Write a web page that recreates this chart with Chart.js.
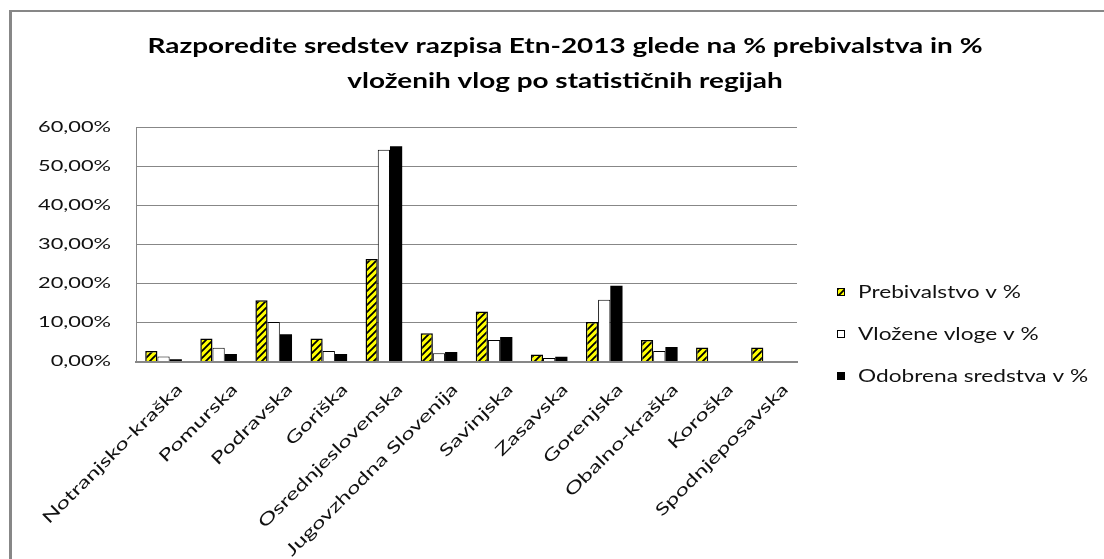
<!DOCTYPE html>
<html><head><meta charset="utf-8">
<script src="https://cdn.jsdelivr.net/npm/chart.js@4/dist/chart.umd.min.js"></script>
<style>
html,body{margin:0;padding:0;background:#fff;overflow:hidden}
#wrap{position:relative;width:1104px;height:559px}
canvas{position:absolute;left:0;top:0}
#frame{position:absolute;left:9px;top:10px;width:1200px;height:700px;border-left:3px solid #878787;border-top:2px solid #878787;pointer-events:none}
</style></head><body>
<div id="wrap"><canvas id="c" width="1104" height="559"></canvas><div id="frame"></div></div>
<script>
// ---- data ----
const categories = ['Notranjsko-kraška','Pomurska','Podravska','Goriška','Osrednjeslovenska','Jugovzhodna Slovenija','Savinjska','Zasavska','Gorenjska','Obalno-kraška','Koroška','Spodnjeposavska'];
const prebivalstvo = [2.7, 5.9, 15.7, 5.9, 26.2, 7.2, 12.8, 1.8, 10.1, 5.5, 3.6, 3.6];
const vlozeneVloge = [1.3, 3.5, 10.1, 2.7, 54.2, 2.1, 5.5, 0.9, 15.8, 2.7, 0, 0];
const odobrenaSredstva = [0.6, 1.9, 7.0, 1.9, 55.1, 2.4, 6.3, 1.2, 19.4, 3.7, 0, 0];
const seriesNames = ['Prebivalstvo v %','Vložene vloge v %','Odobrena sredstva v %'];
const yTickValues = [0, 10, 20, 30, 40, 50, 60];
const titleLines = ['Razporedite sredstev razpisa Etn-2013 glede na % prebivalstva in %','vloženih vlog po statističnih regijah'];

// ---- text widening (reference font renders wide) ----
const canvas = document.getElementById('c');
const ctx = canvas.getContext('2d');
const origFill = CanvasRenderingContext2D.prototype.fillText;
const origMeasure = CanvasRenderingContext2D.prototype.measureText;
const sxByFont = {};
function fontKey(f){ ctx.font = f; return ctx.font; }
function fitSX(f, text, target){
  const k = fontKey(f);
  const w = origMeasure.call(ctx, text).width;
  sxByFont[k] = target / w;
  return f;
}
fitSX('15px Lato', '60,00%', 73);
fitSX('16.5px Lato', 'Notranjsko-kraška', 190);
fitSX('bold 21px Lato', titleLines[0], 835);
const FONT_LEG = fitSX('17px Lato', seriesNames[0], 163);
ctx.fillText = function(t, x, y){
  const s = sxByFont[this.font] || 1;
  this.save(); this.translate(x, y); this.scale(s, 1); origFill.call(this, t, 0, 0); this.restore();
};
ctx.measureText = function(t){
  const m = origMeasure.call(this, t);
  const s = sxByFont[this.font] || 1;
  return {width: m.width * s, actualBoundingBoxAscent: m.actualBoundingBoxAscent, actualBoundingBoxDescent: m.actualBoundingBoxDescent,
    actualBoundingBoxLeft: m.actualBoundingBoxLeft * s, actualBoundingBoxRight: m.actualBoundingBoxRight * s};
};

// ---- stripe pattern ----
function stripePattern(){
  const p = document.createElement('canvas'); p.width = 7; p.height = 7;
  const g = p.getContext('2d');
  g.fillStyle = '#ffff00'; g.fillRect(0, 0, 7, 7);
  g.strokeStyle = '#000'; g.lineWidth = 1.9; g.beginPath();
  g.moveTo(-2, 9); g.lineTo(9, -2);
  g.moveTo(-2, 2); g.lineTo(2, -2);
  g.moveTo(5, 9); g.lineTo(9, 5);
  g.stroke();
  return ctx.createPattern(p, 'repeat');
}
const yellowStripes = stripePattern();

const legendPlugin = {
  id: 'sideLegend',
  afterDraw(chart){
    const c = chart.ctx, a = chart.chartArea;
    const x = a.right + 40;
    const ys = [a.top + 165, a.top + 207, a.top + 249];
    const fills = [yellowStripes, '#ffffff', '#000000'];
    c.save();
    ys.forEach((y, i) => {
      c.fillStyle = fills[i]; c.fillRect(x, y - 4, 8, 8);
      c.strokeStyle = '#000'; c.lineWidth = 1; c.strokeRect(x + 0.5, y - 3.5, 7, 7);
      c.font = FONT_LEG; c.fillStyle = '#111'; c.textAlign = 'left'; c.textBaseline = 'middle';
      c.fillText(seriesNames[i], x + 21, y + 1);
    });
    c.restore();
  }
};

const PLOT_LEFT = 136, PLOT_BOTTOM = 361.5, PLOT_RIGHT = 797, PAD_LEFT = 26;
new Chart(ctx, {
  type: 'bar',
  data: {
    labels: categories,
    datasets: [
      {label: seriesNames[0], data: prebivalstvo, backgroundColor: yellowStripes, borderColor: '#000', borderWidth: 1.5},
      {label: seriesNames[1], data: vlozeneVloge, backgroundColor: '#ffffff', borderColor: '#000', borderWidth: 1},
      {label: seriesNames[2], data: odobrenaSredstva, backgroundColor: '#000000', borderColor: '#000', borderWidth: 0}
    ]
  },
  options: {
    responsive: false, animation: false,
    devicePixelRatio: 1,
    layout: {padding: {left: PAD_LEFT, right: 0, top: 0, bottom: 0}},
    datasets: {bar: {categoryPercentage: 0.665, barPercentage: 1}},
    plugins: {
      legend: {display: false},
      tooltip: {enabled: false},
      title: {display: true, text: titleLines, color: '#000',
        font: {family: 'Lato', size: 21, weight: 'bold', lineHeight: 1.65},
        padding: {top: 29, bottom: 28.7}}
    },
    scales: {
      x: {
        grid: {display: false, drawTicks: false},
        border: {display: true, color: '#878787', width: 2},
        ticks: {autoSkip: false, maxRotation: 45, minRotation: 45, color: '#111', padding: 18, labelOffset: 16,
          font: {family: 'Lato', size: 16.5}},
        afterFit(s){ s.height = 559 - PLOT_BOTTOM; }
      },
      y: {
        min: 0, max: 60,
        afterBuildTicks(s){ s.ticks = yTickValues.map(v => ({value: v})); },
        grid: {color: '#878787', lineWidth: 1, drawTicks: false},
        border: {display: true, color: '#878787', width: 1},
        ticks: {color: '#111', padding: 25, font: {family: 'Lato', size: 15},
          callback: v => v.toFixed(2).replace('.', ',') + '%'},
        afterFit(s){ s.width = PLOT_LEFT - PAD_LEFT; }
      },
      legendSpace: {
        type: 'linear', position: 'right', display: true,
        grid: {display: false, drawTicks: false}, border: {display: false}, ticks: {display: false},
        afterFit(s){ s.width = 1104 - PLOT_RIGHT; }
      }
    }
  },
  plugins: [legendPlugin]
});
</script>
</body></html>
